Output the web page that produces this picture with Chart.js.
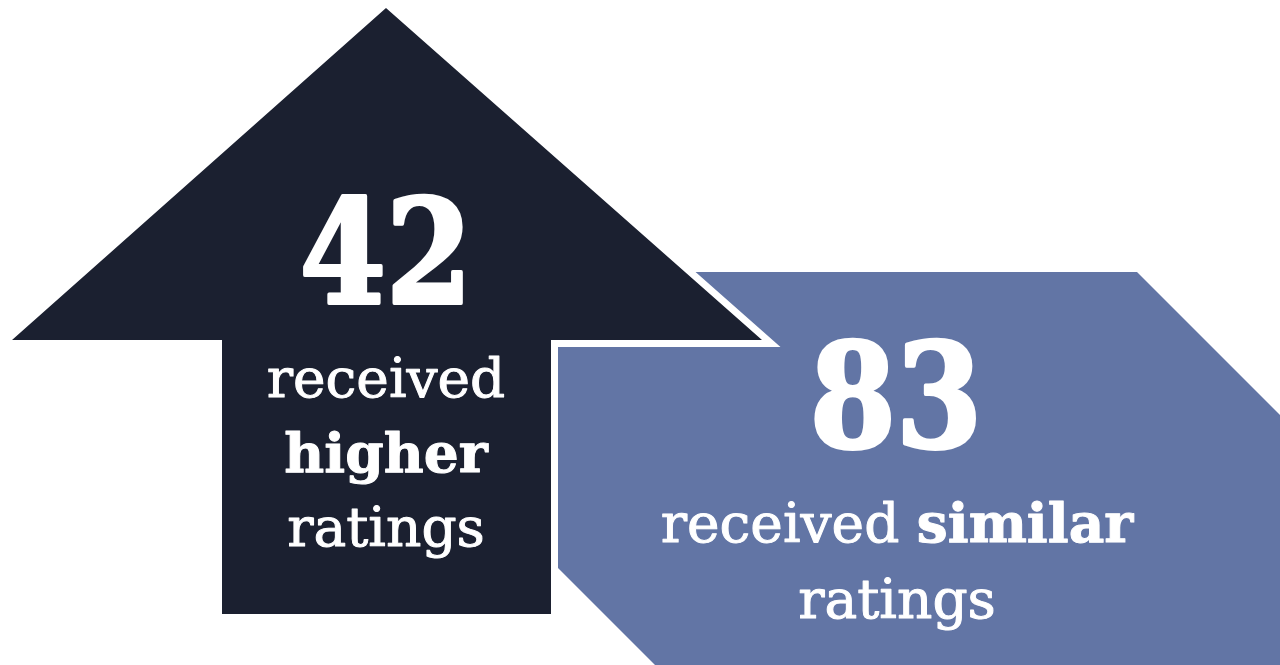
<!DOCTYPE html>
<html>
<head>
<meta charset="utf-8">
<script src="https://cdn.jsdelivr.net/npm/chart.js@4.4.1/dist/chart.umd.min.js"></script>
<style>
  html, body { margin: 0; padding: 0; background: #ffffff; }
  #wrap { width: 1280px; height: 665px; }
</style>
</head>
<body>
<div id="wrap"><canvas id="chart" width="1280" height="665"></canvas></div>
<script>
// ===== dados =====
const counts = [42, 83];
const leadWords = ["received", "received"];
const boldWords = ["higher", "similar"];
const tailWords = ["ratings", "ratings"];
const colors = ["#1b2030", "#6275a5"];

const SERIF = '"DejaVu Serif", "Liberation Serif", serif';

// desenha as duas setas e os textos
const infographic = {
  id: "infographic",
  beforeDatasetsDraw(chart) {
    const { ctx, scales: { x, y } } = chart;
    const px = v => x.getPixelForValue(v);
    const py = v => y.getPixelForValue(v);

    const poly = pts => {
      ctx.beginPath();
      pts.forEach((p, i) => i ? ctx.lineTo(px(p[0]), py(p[1])) : ctx.moveTo(px(p[0]), py(p[1])));
      ctx.closePath();
    };

    ctx.save();

    // seta azul (atras)
    poly([[558, 272], [1137, 272], [1530, 665], [655, 665], [558, 568]]);
    ctx.fillStyle = colors[1];
    ctx.fill();

    // seta escura com contorno branco
    const up = [[386, 8], [762, 340], [551, 340], [551, 614], [222, 614], [222, 340], [12, 340]];
    poly(up);
    ctx.lineJoin = "miter";
    ctx.miterLimit = 10;
    ctx.lineWidth = 14;
    ctx.strokeStyle = "#ffffff";
    ctx.stroke();
    ctx.fillStyle = colors[0];
    ctx.fill();

    ctx.fillStyle = "#ffffff";
    ctx.strokeStyle = "#ffffff";
    ctx.lineJoin = "round";
    ctx.textBaseline = "alphabetic";
    ctx.textAlign = "left";

    const bigNum = (txt, cx, base) => {
      ctx.save();
      ctx.font = "bold 144px " + SERIF;
      const w = ctx.measureText(txt).width;
      ctx.translate(px(cx), py(base));
      ctx.scale(0.86, 1);
      ctx.lineWidth = 4;
      ctx.strokeText(txt, -w / 2, 0);
      ctx.fillText(txt, -w / 2, 0);
      ctx.restore();
    };

    // linha com partes normais e negrito, centrada
    const line = (parts, cx, base) => {
      const fonts = parts.map(p => (p.b ? "bold " : "") + "55px " + SERIF);
      let total = 0;
      const ws = parts.map((p, i) => { ctx.font = fonts[i]; const w = ctx.measureText(p.t).width; total += w; return w; });
      let xx = px(cx) - total / 2;
      parts.forEach((p, i) => {
        ctx.font = fonts[i];
        ctx.lineWidth = 1;
        ctx.strokeText(p.t, xx, py(base));
        ctx.fillText(p.t, xx, py(base));
        xx += ws[i];
      });
    };

    // bloco esquerdo
    bigNum(String(counts[0]), 386, 303);
    line([{ t: leadWords[0] }], 386, 397);
    line([{ t: boldWords[0], b: true }], 386, 472);
    line([{ t: tailWords[0] }], 386, 546);

    // bloco direito
    bigNum(String(counts[1]), 896, 447);
    line([{ t: leadWords[1] + " " }, { t: boldWords[1], b: true }], 897, 542);
    line([{ t: tailWords[1] }], 897, 618);

    ctx.restore();
  }
};

new Chart(document.getElementById("chart"), {
  type: "scatter",
  data: { datasets: [{ data: [], pointRadius: 0 }] },
  options: {
    responsive: false,
    animation: false,
    layout: { padding: 0 },
    plugins: { legend: { display: false }, tooltip: { enabled: false } },
    scales: {
      x: { type: "linear", min: 0, max: 1280, display: false },
      y: { type: "linear", min: 0, max: 665, reverse: true, display: false }
    }
  },
  plugins: [infographic]
});
</script>
</body>
</html>
